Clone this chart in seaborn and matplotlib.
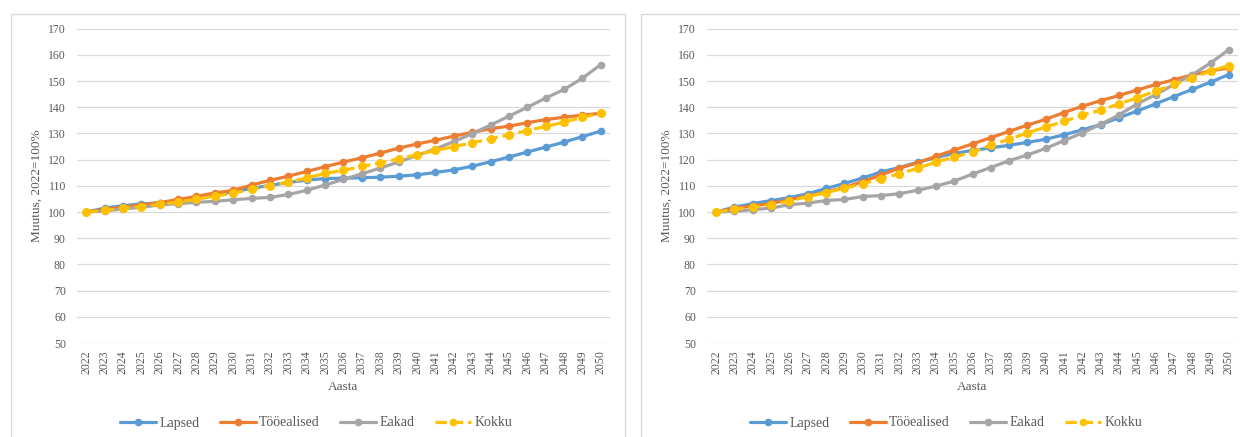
import matplotlib
matplotlib.use("Agg")
import matplotlib.pyplot as plt
from matplotlib.patches import Rectangle
from matplotlib.lines import Line2D
import seaborn as sns
import pandas as pd

years = list(range(2022, 2051))
series_names = ["Lapsed", "Tööealised", "Eakad", "Kokku"]

# Left panel
left_lapsed = [100, 101.5, 102.4, 103.1, 103.5, 104.0, 105.2, 106.5, 107.8, 109.0, 110.2,
               111.3, 112.2, 112.8, 112.9, 113.1, 113.3, 113.7, 114.2, 115.1, 116.1, 117.5,
               119.2, 121.0, 122.9, 124.8, 126.7, 128.8, 130.9]
left_tooealised = [100, 101.0, 101.9, 102.7, 103.6, 104.8, 106.0, 107.3, 108.3, 110.3, 112.1,
                   113.7, 115.5, 117.3, 119.1, 120.7, 122.5, 124.4, 126.0, 127.4, 129.0, 130.4,
                   131.8, 132.8, 134.1, 135.3, 136.2, 137.0, 137.7]
left_eakad = [100, 100.4, 101.2, 101.8, 102.7, 103.2, 103.7, 104.1, 104.7, 105.2, 105.6,
              106.7, 108.3, 110.3, 112.5, 114.6, 116.8, 119.1, 121.6, 124.1, 126.9, 129.9,
              133.2, 136.6, 140.0, 143.5, 146.8, 151.1, 156.3]
left_kokku = [100, 100.6, 101.4, 102.1, 102.9, 103.8, 104.9, 106.1, 107.2, 108.7, 110.1,
              111.4, 113.0, 114.8, 115.9, 117.4, 118.8, 120.3, 121.9, 123.5, 125.0, 126.4,
              128.0, 129.5, 131.1, 132.7, 134.3, 136.2, 137.7]

# Right panel
right_lapsed = [100, 101.9, 103.2, 104.4, 105.5, 107.0, 109.0, 110.9, 113.0, 115.3, 117.0,
                119.0, 120.8, 122.4, 123.5, 124.5, 125.5, 126.6, 127.8, 129.5, 131.4, 133.4,
                136.0, 138.6, 141.3, 144.1, 146.8, 149.6, 152.5]
right_tooealised = [100, 101.5, 102.3, 103.3, 104.7, 106.1, 107.6, 109.4, 111.6, 114.2, 116.7,
                    118.8, 121.3, 123.7, 126.0, 128.4, 130.8, 133.2, 135.4, 138.0, 140.4, 142.5,
                    144.5, 146.6, 148.7, 150.5, 152.4, 153.9, 155.0]
right_eakad = [100, 100.3, 100.9, 101.5, 102.8, 103.4, 104.4, 104.8, 105.9, 106.3, 107.0,
               108.3, 109.9, 111.8, 114.5, 117.0, 119.6, 121.8, 124.3, 127.3, 130.2, 133.5,
               137.1, 141.3, 144.8, 148.7, 152.4, 156.9, 162.0]
right_kokku = [100, 101.0, 101.9, 102.8, 104.2, 105.9, 107.4, 109.1, 110.8, 112.7, 114.6,
               116.7, 119.1, 121.0, 122.9, 125.5, 127.8, 130.2, 132.5, 134.6, 137.0, 138.9,
               141.3, 143.6, 146.2, 148.7, 151.2, 153.8, 155.9]

y_ticks = list(range(50, 171, 10))
y_label = "Muutus, 2022=100%"
x_label = "Aasta"

colors = {"Lapsed": "#5B9BD5", "Tööealised": "#ED7D31", "Eakad": "#A5A5A5", "Kokku": "#FFC000"}
dash = (3.6, 1.5)

sns.set_theme(style="white")
plt.rcParams["font.family"] = ["Liberation Serif", "DejaVu Serif"]

fig = plt.figure(figsize=(12.4, 4.37), dpi=100)

# panel frames
for x0, x1 in [(11, 625), (641, 1250)]:
    fig.patches.append(Rectangle((x0 / 1240, -0.05), (x1 - x0) / 1240, 1.05 - 13.5 / 437,
                                 transform=fig.transFigure, fill=False,
                                 edgecolor="#d9d9d9", linewidth=1.0, zorder=0))

panels = [
    (77, 610, [left_lapsed, left_tooealised, left_eakad, left_kokku], 316),
    (707, 1238, [right_lapsed, right_tooealised, right_eakad, right_kokku], 946),
]

for (xl, xr, data, legx) in panels:
    ax = fig.add_axes([xl / 1240, 1 - 343 / 437, (xr - xl) / 1240, (343 - 28.7) / 437])
    idx = list(range(len(years)))
    for name, vals in zip(series_names, data):
        df = pd.DataFrame({"pos": idx, "val": vals})
        sns.lineplot(data=df, x="pos", y="val", ax=ax, color=colors[name],
                     marker="o", markersize=5.5, markeredgewidth=0,
                     linewidth=2.3, legend=False)
        line = ax.lines[-1]
        if name == "Kokku":
            line.set_linestyle((0, dash))
            line.set_markersize(6.5)
    ax.set_xlim(-0.5, len(years) - 0.5)
    ax.set_ylim(50, 170)
    ax.set_yticks(y_ticks)
    ax.set_yticklabels([str(v) for v in y_ticks])
    ax.set_xticks(idx)
    ax.set_xticklabels([str(y) for y in years], rotation=90)
    ax.tick_params(axis="both", length=0, labelsize=8.5, labelcolor="#595959")
    ax.tick_params(axis="y", pad=8)
    ax.tick_params(axis="x", pad=5)
    ax.grid(axis="y", color="#d9d9d9", linewidth=0.9)
    ax.grid(axis="x", visible=False)
    ax.set_axisbelow(True)
    for s in ax.spines.values():
        s.set_visible(False)
    ax.set_ylabel(y_label, fontsize=9.5, color="#595959")
    ax.yaxis.set_label_coords(-0.064, 0.5)
    ax.set_xlabel(x_label, fontsize=9.5, color="#595959")
    ax.xaxis.set_label_coords(0.5, -0.12)

    handles = []
    for name in series_names:
        ls = (0, dash) if name == "Kokku" else "-"
        handles.append(Line2D([0], [0], color=colors[name], linewidth=2.3, linestyle=ls,
                              marker="o", markersize=5.5, markeredgewidth=0))
    fig.legend(handles, series_names, loc="center", ncol=4, frameon=False,
               bbox_to_anchor=(legx / 1240, 1 - 423 / 437), fontsize=10,
               handlelength=2.6, handletextpad=0.25, columnspacing=1.45,
               labelcolor="#595959")

fig.savefig("out.png", dpi=100, facecolor="white")
